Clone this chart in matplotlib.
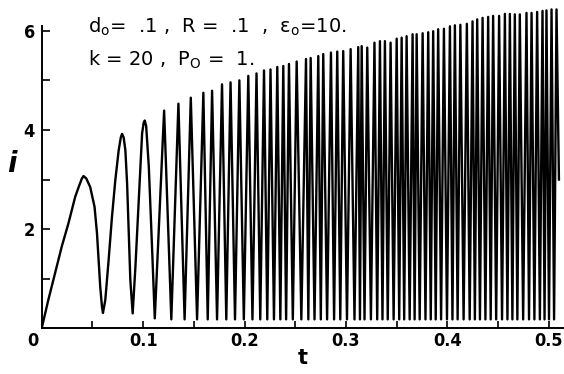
import matplotlib
matplotlib.use("Agg")
import matplotlib.pyplot as plt
from matplotlib.ticker import MultipleLocator
import matplotlib.transforms as mtransforms
import numpy as np

# ---- data ----
# first arches, traced point by point (t, i)
early_t = [0.0, 0.0065, 0.0132, 0.0198, 0.0264, 0.0330, 0.0370, 0.0396, 0.0412, 0.0440,
           0.0478, 0.0521, 0.0545, 0.0561, 0.0577, 0.0594, 0.0604, 0.0627, 0.0660, 0.0693,
           0.0726, 0.0759, 0.0780, 0.0792, 0.0808, 0.0825, 0.0842, 0.0858, 0.0874, 0.0897,
           0.0924, 0.0957, 0.0990, 0.1005, 0.1016, 0.1030, 0.1056, 0.1089, 0.1115]
early_i = [0.0, 0.57, 1.11, 1.65, 2.12, 2.65, 2.88, 3.02, 3.07, 3.02,
           2.85, 2.45, 1.92, 1.38, 0.84, 0.44, 0.31, 0.57, 1.38, 2.25,
           2.99, 3.59, 3.85, 3.92, 3.85, 3.59, 2.92, 1.92, 0.97, 0.30,
           1.24, 2.59, 3.93, 4.14, 4.19, 4.08, 3.26, 1.58, 0.20]

# later peaks of the oscillation
peak_t = [0.1207, 0.1348, 0.1470, 0.1594, 0.1680, 0.1778, 0.1862, 0.1949, 0.2037, 0.2118,
          0.2192, 0.2256, 0.2323, 0.2382, 0.2438, 0.2514, 0.2606, 0.2652, 0.2727, 0.2776,
          0.2852, 0.2914, 0.2973, 0.3046, 0.3121, 0.3155, 0.3210, 0.3281, 0.3335, 0.3384,
          0.3440, 0.3500, 0.3549, 0.3598, 0.3657, 0.3697, 0.3756, 0.3811, 0.3860, 0.3909,
          0.3966, 0.4025, 0.4074, 0.4128, 0.4192, 0.4248, 0.4294, 0.4347, 0.4402, 0.4451,
          0.4510, 0.4567, 0.4616, 0.4665, 0.4714, 0.4780, 0.4830, 0.4885, 0.4938, 0.4977,
          0.5027, 0.5076]
peak_i = [4.39, 4.53, 4.65, 4.75, 4.79, 4.92, 4.96, 5.00, 5.09, 5.14,
          5.20, 5.22, 5.27, 5.29, 5.33, 5.38, 5.43, 5.45, 5.49, 5.53,
          5.56, 5.58, 5.59, 5.63, 5.67, 5.69, 5.66, 5.76, 5.79, 5.79,
          5.76, 5.84, 5.86, 5.89, 5.93, 5.93, 5.95, 5.97, 5.99, 6.03,
          6.04, 6.09, 6.11, 6.12, 6.14, 6.19, 6.23, 6.26, 6.28, 6.30,
          6.30, 6.34, 6.34, 6.33, 6.33, 6.36, 6.36, 6.38, 6.40, 6.41,
          6.43, 6.43]

# later troughs
trough_t = [0.1278, 0.1409, 0.1532, 0.1637, 0.1729, 0.1820, 0.1906, 0.1993, 0.2078, 0.2155,
            0.2224, 0.2290, 0.2353, 0.2410, 0.2476, 0.2560, 0.2629, 0.2690, 0.2752, 0.2814,
            0.2883, 0.2944, 0.3010, 0.3084, 0.3138, 0.3183, 0.3246, 0.3308, 0.3360, 0.3412,
            0.3470, 0.3525, 0.3574, 0.3628, 0.3677, 0.3727, 0.3784, 0.3836, 0.3885, 0.3938,
            0.3996, 0.4050, 0.4101, 0.4160, 0.4220, 0.4271, 0.4321, 0.4375, 0.4427, 0.4481,
            0.4539, 0.4592, 0.4641, 0.4690, 0.4747, 0.4805, 0.4858, 0.4912, 0.4958, 0.5002,
            0.5052]
trough_level = 0.18

end_t = [0.5100]
end_i = [3.0]

x_ticks = [0, 0.1, 0.2, 0.3, 0.4, 0.5]
x_ticklabels = ["0", "0.1", "0.2", "0.3", "0.4", "0.5"]
y_ticks = [2, 4, 6]
y_ticklabels = ["2", "4", "6"]

# ---- assemble the curve ----
t_all = list(early_t) + list(peak_t) + list(trough_t) + end_t
i_all = list(early_i) + list(peak_i) + [trough_level] * len(trough_t) + end_i
order = np.argsort(t_all, kind="stable")
t_curve = np.asarray(t_all)[order]
i_curve = np.asarray(i_all)[order]

# ---- figure ----
W, H = 564, 374
fig = plt.figure(figsize=(W / 100, H / 100), dpi=100)
x0, y0, x1 = 41.7, 45.7, 563.0
ax = fig.add_axes([x0 / W, y0 / H, (x1 - x0) / W, (H - y0) / H])

ax.plot(t_curve, i_curve, color="black", lw=1.7, solid_joinstyle="round")

ax.set_xlim(0, 0.514)
ax.set_ylim(0, 6.62)

for s in ["top", "right"]:
    ax.spines[s].set_visible(False)
for s in ["left", "bottom"]:
    ax.spines[s].set_linewidth(1.4)
ax.spines["left"].set_bounds(0, 6.1)

tick_font = dict(fontsize=13, fontweight="bold", fontstretch="condensed")
ax.set_xticks(x_ticks)
ax.set_xticklabels(x_ticklabels, **tick_font)
ax.set_yticks(y_ticks)
ax.set_yticklabels(y_ticklabels, **tick_font)
ax.xaxis.set_minor_locator(MultipleLocator(0.05))
ax.yaxis.set_minor_locator(MultipleLocator(1))
ax.tick_params(which="both", direction="in", width=1.2, length=5, pad=3)
ax.tick_params(axis="y", which="both", length=6, pad=5)

# shift the "0" label slightly left, like the reference
lab0 = ax.get_xticklabels()[0]
lab0.set_transform(lab0.get_transform() +
                   mtransforms.ScaledTranslation(-6 / 72, 0, fig.dpi_scale_trans))

ax.set_xlabel("t", fontsize=15, fontweight="bold", labelpad=-2)
ax.set_ylabel("i", fontsize=20, fontweight="bold", style="italic",
              rotation=0, labelpad=10, va="center")
ax.yaxis.set_label_coords(-0.058, 0.5)

txt = dict(fontsize=14, va="center", ha="left", transform=ax.transAxes)
ax.text(0.089, 0.918,
        r"d$_\mathregular{o}$=  .1 ,  R =  .1  ,  ε$_\mathregular{o}$=10.", **txt)
ax.text(0.089, 0.817,
        r"k = 20 ,  P$_\mathregular{O}$ =  1.", **txt)

fig.savefig("out.png", dpi=100)
